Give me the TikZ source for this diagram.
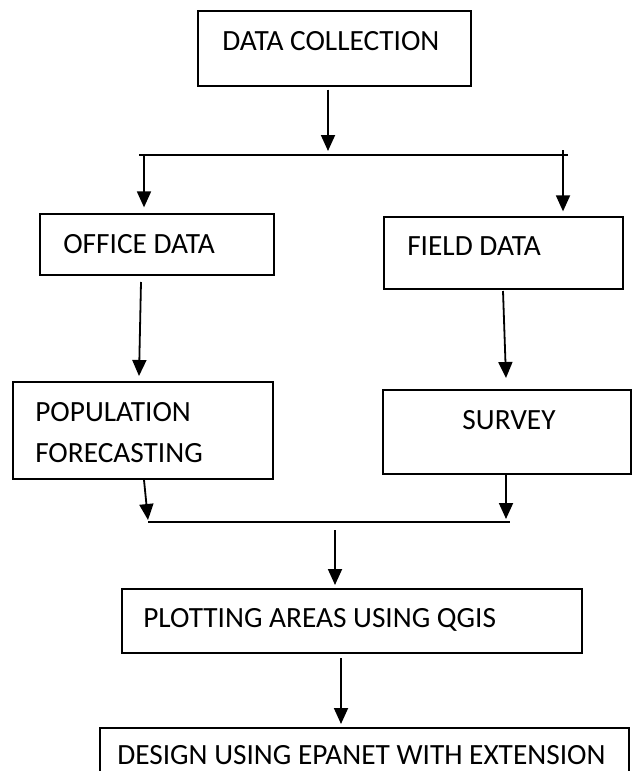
\documentclass[tikz,border=0pt]{standalone}
\usepackage{fontspec}
\setmainfont{Carlito}
\usetikzlibrary{arrows.meta,fit}
\begin{document}
\begin{tikzpicture}[x=0.75pt,y=-0.75pt,
  box/.style={draw, line width=0.95pt, inner sep=0pt},
  txt/.style={inner sep=0pt, font=\fontsize{22}{26}\selectfont},
  wire/.style={line width=1.35pt},
  arr/.style={wire, -{Triangle[width=10.5pt,length=12pt]}}]
\useasboundingbox (0,0) rectangle (632,771);
\clip (0,0) rectangle (632,771);
% boxes
\node[box, fit={(198,11) (471,86)}] (dc) {};
\node[txt, anchor=base west] (dct) at (222,50) {DATA COLLECTION};
\node[box, fit={(40,214) (274,275)}] (od) {};
\node[txt, anchor=base west] (odt) at (63,253) {OFFICE DATA};
\node[box, fit={(384,217) (623,289)}] (fd) {};
\node[txt, anchor=base west] (fdt) at (407,255) {FIELD DATA};
\node[box, fit={(13,382) (273,479)}] (pf) {};
\node[txt, anchor=base west] (pft1) at (35,421) {POPULATION};
\node[txt, anchor=base west] (pft2) at (35,462) {FORECASTING};
\node[box, fit={(383,390) (631,474)}] (sv) {};
\node[txt, anchor=base] (svt) at (509,429) {SURVEY};
\node[box, fit={(122,589) (582,653)}] (pa) {};
\node[txt, anchor=base west] (pat) at (143,627) {PLOTTING AREAS USING QGIS};
\node[box, fit={(100,728) (629,800)}] (de) {};
\node[txt, anchor=base west] (det) at (117,764) {DESIGN USING EPANET WITH EXTENSION};
% connectors
\coordinate (j0) at (328,151);
\draw[arr, shorten <=2.25pt] (dc.south -| j0) -- (j0);
\coordinate (bl) at (139,155);
\coordinate (br) at (568,155);
\draw[wire] (bl) -- (br);
\coordinate (bl1) at (144,155);
\draw[arr, shorten >=4.5pt] (bl1) -- (bl1 |- od.north);
\coordinate (br1) at (563,150);
\draw[arr, shorten >=3.75pt] (br1) -- (br1 |- fd.north);
\coordinate (o1) at (141,282);
\coordinate (o2) at (139,376);
\draw[arr] (o1) -- (o2);
\coordinate (f1) at (503,291);
\coordinate (f2) at (506,378);
\draw[arr] (f1) -- (f2);
\coordinate (p1) at (144,480);
\coordinate (p2) at (148,520);
\draw[arr] (p1) -- (p2);
\coordinate (s1) at (506,474);
\coordinate (s2) at (506,519);
\draw[arr] (s1) -- (s2);
\coordinate (jl) at (148,522);
\coordinate (jr) at (510,522);
\draw[wire] (jl) -- (jr);
\coordinate (q1) at (335,530);
\coordinate (q2) at (335,585);
\draw[arr] (q1) -- (q2);
\coordinate (r1) at (341,658);
\coordinate (r2) at (341,724);
\draw[arr] (r1) -- (r2);
\end{tikzpicture}
\end{document}
